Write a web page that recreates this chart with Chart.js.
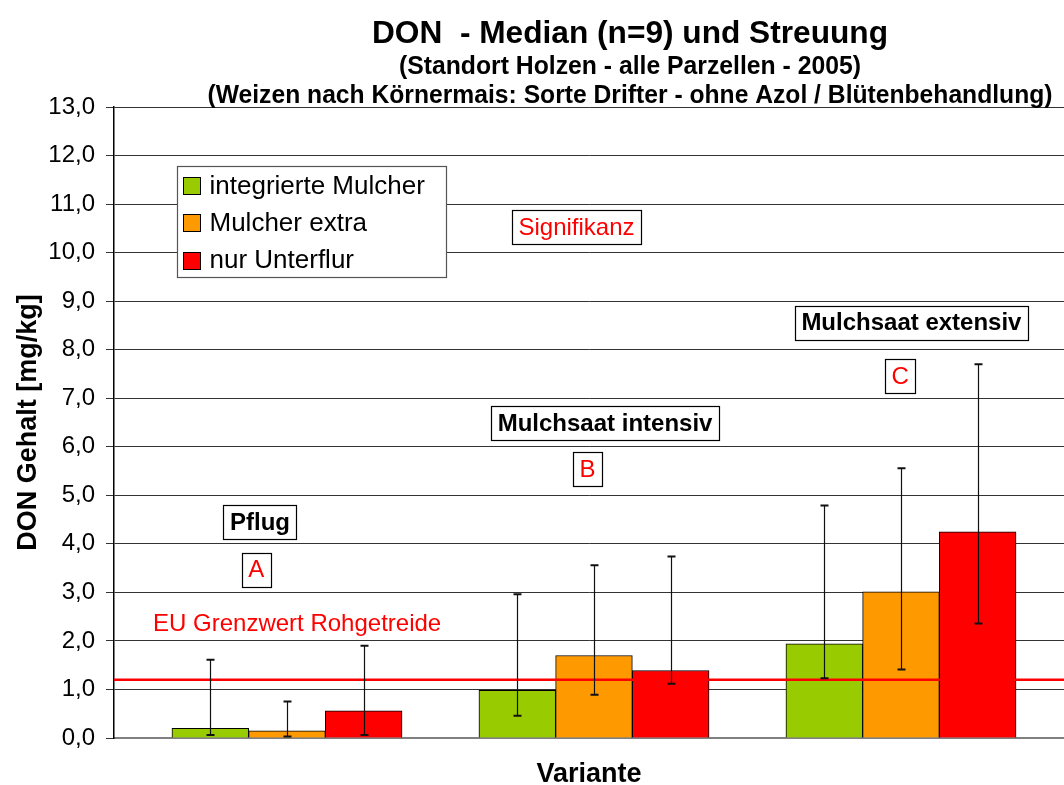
<!DOCTYPE html>
<html>
<head>
<meta charset="utf-8">
<title>DON - Median (n=9) und Streuung</title>
<script src="https://cdn.jsdelivr.net/npm/chart.js@4.4.0/dist/chart.umd.min.js"></script>
<style>
  html, body { margin: 0; padding: 0; background: #fff; }
  #chart { display: block; }
</style>
</head>
<body>
<canvas id="chart" width="1064" height="785"></canvas>
<script>
const FONT = "'Liberation Sans', Arial, Helvetica, sans-serif";

// title lines
const titleLines = [
    'DON  - Median (n=9) und Streuung',
    '(Standort Holzen - alle Parzellen - 2005)',
    '(Weizen nach Körnermais: Sorte Drifter - ohne Azol / Blütenbehandlung)'
];

// categories (variants) and significance groups
const categories = ['Pflug', 'Mulchsaat intensiv', 'Mulchsaat extensiv'];
const signifLetters = ['A', 'B', 'C'];

// series
const seriesNames = ['integrierte Mulcher', 'Mulcher extra', 'nur Unterflur'];
const seriesColors = ['#99CC00', '#FF9900', '#FF0000'];

// medians
const medianIntegriert = [0.20, 0.98, 1.94];
const medianExtra = [0.15, 1.70, 3.01];
const medianUnterflur = [0.56, 1.39, 4.25];

// spread (min / max)
const lowIntegriert = [0.06, 0.46, 1.23];
const highIntegriert = [1.61, 2.96, 4.79];
const lowExtra = [0.03, 0.89, 1.41];
const highExtra = [0.75, 3.56, 5.56];
const lowUnterflur = [0.06, 1.12, 2.36];
const highUnterflur = [1.90, 3.74, 7.70];

// EU limit for raw cereals
const euLimit = 1.2;
const euLabel = 'EU Grenzwert Rohgetreide';

const yTickLabels = ['0,0', '1,0', '2,0', '3,0', '4,0', '5,0', '6,0', '7,0',
    '8,0', '9,0', '10,0', '11,0', '12,0', '13,0'];

/**
 * Draws a text with a white box and thin black frame, centred on (cx, cy).
 */
function drawBoxedText(ctx, text, cx, cy, font, color) {
    ctx.font = font;
    const w = Math.round(ctx.measureText(text).width + 13);
    const h = 34;
    const left = Math.round(cx - w / 2) + 0.5;
    const top = Math.round(cy - h / 2) + 0.5;
    ctx.fillStyle = '#fff';
    ctx.fillRect(left, top, w, h);
    ctx.strokeStyle = '#000';
    ctx.lineWidth = 1.2;
    ctx.strokeRect(left, top, w, h);
    ctx.fillStyle = color;
    ctx.textAlign = 'center';
    ctx.textBaseline = 'middle';
    ctx.fillText(text, cx, cy + 1);
}

const overlayPlugin = {
    id: 'overlay',
    afterDatasetsDraw(chart) {
        const ctx = chart.ctx;
        const yScale = chart.scales.y;
        const area = chart.chartArea;
        ctx.save();

        // EU limit line
        const yEu = yScale.getPixelForValue(euLimit);
        ctx.strokeStyle = '#FF0000';
        ctx.lineWidth = 2.5;
        ctx.beginPath();
        ctx.moveTo(area.left, yEu);
        ctx.lineTo(area.right, yEu);
        ctx.stroke();

        // spread whiskers
        chart.data.datasets.forEach((ds, i) => {
            const meta = chart.getDatasetMeta(i);
            meta.data.forEach((bar, j) => {
                const x = Math.round(bar.x) + 0.5;
                const top = yScale.getPixelForValue(ds.high[j]);
                const bottom = yScale.getPixelForValue(ds.low[j]);
                ctx.strokeStyle = '#111';
                ctx.lineWidth = 1.2;
                ctx.beginPath();
                ctx.moveTo(x, top);
                ctx.lineTo(x, bottom);
                ctx.stroke();
                ctx.lineWidth = 2;
                ctx.beginPath();
                ctx.moveTo(x - 4, top);
                ctx.lineTo(x + 4, top);
                ctx.moveTo(x - 4, bottom);
                ctx.lineTo(x + 4, bottom);
                ctx.stroke();
            });
        });
        ctx.restore();
    },
    afterDraw(chart) {
        const ctx = chart.ctx;
        const xScale = chart.scales.x;
        const yScale = chart.scales.y;
        const area = chart.chartArea;
        ctx.save();

        // title block
        ctx.fillStyle = '#000';
        ctx.textAlign = 'center';
        ctx.textBaseline = 'alphabetic';
        ctx.font = 'bold 32px ' + FONT;
        ctx.fillText(titleLines[0], 630, 43, 516);
        ctx.font = 'bold 25px ' + FONT;
        ctx.fillText(titleLines[1], 630, 74, 462);
        ctx.fillText(titleLines[2], 630, 103, 845);

        // EU label
        ctx.fillStyle = '#FF0000';
        ctx.font = '24px ' + FONT;
        ctx.textBaseline = 'middle';
        ctx.fillText(euLabel, xScale.getPixelForValue(0.033), yScale.getPixelForValue(2.35));

        // variant names and significance letters
        const nameOffsets = [[-0.088, 4.45], [0.036, 6.49], [0.034, 8.56]];
        const letterOffsets = [[-0.10, 3.47], [-0.021, 5.54], [-0.003, 7.46]];
        categories.forEach((name, i) => {
            drawBoxedText(ctx, name,
                xScale.getPixelForValue(i + nameOffsets[i][0]),
                yScale.getPixelForValue(nameOffsets[i][1]),
                'bold 24px ' + FONT, '#000');
            drawBoxedText(ctx, signifLetters[i],
                xScale.getPixelForValue(i + letterOffsets[i][0]),
                yScale.getPixelForValue(letterOffsets[i][1]),
                '24px ' + FONT, '#FF0000');
        });
        drawBoxedText(ctx, 'Signifikanz',
            xScale.getPixelForValue(0.943), yScale.getPixelForValue(10.53),
            '24px ' + FONT, '#FF0000');

        // legend box
        const lx = area.left + 63.5;
        const ly = area.top + 59.5;
        ctx.fillStyle = '#fff';
        ctx.fillRect(lx, ly, 269, 111);
        ctx.strokeStyle = '#555';
        ctx.lineWidth = 1.2;
        ctx.strokeRect(lx, ly, 269, 111);
        ctx.font = '26px ' + FONT;
        ctx.textAlign = 'left';
        ctx.textBaseline = 'middle';
        seriesNames.forEach((name, i) => {
            const cy = ly + 19 + i * 37.3;
            ctx.fillStyle = seriesColors[i];
            ctx.fillRect(lx + 6, Math.round(cy - 8.5) + 0.5, 17, 17);
            ctx.strokeStyle = '#000';
            ctx.lineWidth = 1;
            ctx.strokeRect(lx + 6, Math.round(cy - 8.5) + 0.5, 17, 17);
            ctx.fillStyle = '#000';
            ctx.fillText(name, lx + 32, cy + 1);
        });
        ctx.restore();
    }
};

const medians = [medianIntegriert, medianExtra, medianUnterflur];
const lows = [lowIntegriert, lowExtra, lowUnterflur];
const highs = [highIntegriert, highExtra, highUnterflur];

const ctx = document.getElementById('chart').getContext('2d');
new Chart(ctx, {
    type: 'bar',
    data: {
        datasets: seriesNames.map((name, s) => ({
            label: name,
            data: medians[s].map((v, i) => ({ x: i, y: v })),
            low: lows[s],
            high: highs[s],
            backgroundColor: seriesColors[s],
            borderColor: '#000',
            borderWidth: 1,
            barThickness: 76.7
        }))
    },
    options: {
        responsive: false,
        animation: false,
        layout: {
            padding: { top: 107, left: 0, right: 0, bottom: 0 }
        },
        plugins: {
            legend: { display: false },
            tooltip: { enabled: false },
            title: { display: false }
        },
        scales: {
            x: {
                type: 'linear',
                offset: false,
                min: -0.5635,
                max: 2.531,
                afterFit(scale) { scale.height = 47; },
                ticks: { display: false },
                grid: { display: false, drawTicks: false },
                border: { color: '#808080', width: 2 },
                title: {
                    display: true,
                    text: 'Variante',
                    color: '#000',
                    font: { family: FONT, size: 27, weight: 'bold', lineHeight: 1 },
                    padding: { top: 0, bottom: -3 }
                }
            },
            y: {
                min: 0,
                max: 13,
                afterFit(scale) { scale.width = 114; },
                ticks: {
                    stepSize: 1,
                    padding: 11,
                    color: '#000',
                    font: { family: FONT, size: 24 },
                    callback: value => yTickLabels[Math.round(value)]
                },
                grid: { color: '#333', lineWidth: 1, tickLength: 8 },
                border: { color: '#000', width: 1.5 },
                title: {
                    display: true,
                    text: 'DON Gehalt [mg/kg]',
                    color: '#000',
                    font: { family: FONT, size: 27, weight: 'bold', lineHeight: 1.2 },
                    padding: { top: 12, bottom: 0 }
                }
            }
        }
    },
    plugins: [overlayPlugin]
});
</script>
</body>
</html>
